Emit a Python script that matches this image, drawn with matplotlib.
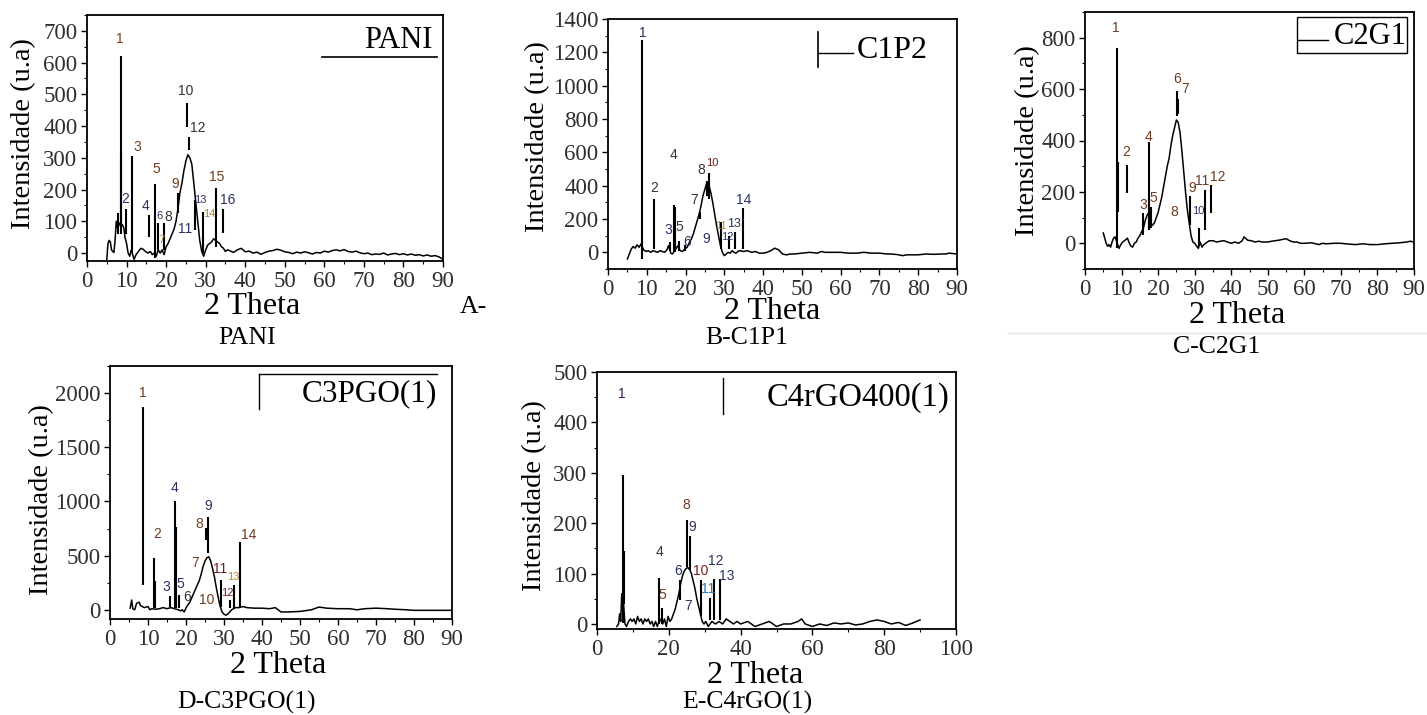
import matplotlib
matplotlib.use("Agg")
import matplotlib.pyplot as plt
from matplotlib.ticker import MultipleLocator
from matplotlib.lines import Line2D
from matplotlib.patches import Rectangle

plt.rcParams['font.family'] = ['Liberation Serif', 'DejaVu Serif']

# ---------------- data ----------------
# A - PANI : background trace
a_x = [5.0, 5.3, 5.6, 5.9, 6.2, 6.5, 6.8, 7.1, 7.4, 7.7, 8.0, 8.3, 8.9, 9.3, 9.6,
       10.0, 10.4, 10.8, 11.2, 11.9, 12.4, 13.0, 13.6, 14.2, 14.8, 15.4, 16.0, 16.5,
       17.0, 17.5, 18.0, 18.5, 19.0, 19.5, 20.0, 20.5, 21.0, 21.5, 22.0, 22.5, 23.0,
       23.5, 24.0, 24.5, 25.0, 25.5, 26.0, 26.5, 27.0, 27.5, 28.0, 28.5, 29.0, 29.5,
       30.0, 30.5, 31.0, 31.5, 32.0, 32.5, 33.0, 33.5, 34.0, 34.5, 35.0, 35.5,
       36, 37, 38, 39, 40, 41, 42, 43, 44, 45, 46, 47, 48, 49, 50, 51, 52, 53, 54,
       55, 56, 57, 58, 59, 60, 61, 62, 63, 64, 65, 66, 67, 68, 69, 70, 71, 72, 73,
       74, 75, 76, 77, 78, 79, 80, 81, 82, 83, 84, 85, 86, 87, 88, 89, 90]
a_y = [-20, 30, 40, 35, 10, 5, 2, 40, 100, 80, 85, 95, 90, 80, 50,
       30, 0, -10, 10, -20, -5, 5, 15, 12, 5, 0, 5, -5,
       0, -10, 10, 0, 10, -5, 20, 30, 45, 60, 75, 100, 140,
       190, 220, 260, 290, 310, 300, 280, 220, 160, 100, 40, 5, -10,
       10, 25, 30, 35, 45, 40, 35, 30, 20, 15, 5, 10,
       8, 2, 10, 15, 4, 6, 0, 3, -4, 2, 6, 8, 12, 9, 4, 2, -2, 3, 0,
       4, 1, -3, 2, 0, 6, 3, 8, 10, 7, 11, 5, 3, 6, 1, -2, 0, -5, -3,
       -4, 0, -6, -3, -1, -5, -2, -6, -3, -7, -5, -9, -6, -10, -8, -12, -20]
# A - PANI : peaks (position, line bottom, line top)
a_pk_x = [7.9, 8.5, 8.7, 9.8, 11.5, 15.7, 17.2, 18.0, 19.45, 23.1, 25.2, 25.7, 27.3, 29.2, 32.5, 34.5]
a_pk_lo = [60, 60, 100, 60, 0, 50, -15, 10, 10, 126, 398, 325, 73, 0, 20, 62]
a_pk_hi = [125, 620, 315, 140, 305, 120, 218, 95, 95, 189, 474, 367, 167, 130, 204, 138]

# B - C1P2
b_x = [5.0, 5.5, 6.0, 6.5, 7.0, 7.5, 8.0, 8.5, 9.2, 9.8, 10.4, 11.0, 11.6, 12.2, 12.8,
       13.4, 14.0, 14.6, 15.2, 15.6, 16.2, 16.6, 17.5, 18.0, 18.6, 19.2, 19.8, 20.4,
       21.0, 21.5, 22.0, 22.5, 23.0, 23.5, 24.0, 24.5, 25.0, 25.5, 26.0, 26.5, 27.0,
       27.5, 28.0, 28.5, 29.0, 29.5, 30.0, 30.5, 31.0, 31.5, 32.0, 32.5, 33.0, 33.5,
       34.0, 35.0, 36.0, 37, 38, 39, 40, 41, 42, 43, 44, 45, 46, 47, 48, 50, 52, 54,
       55, 56, 58, 60, 62, 64, 66, 68, 70, 72, 73, 74, 75, 76, 77, 78, 80, 82, 84,
       86, 87, 88, 90]
b_y = [-40, -10, 20, 35, 25, 45, 30, 50, 15, 5, 10, 0, 10, 5, 0,
       10, 5, 0, 15, 40, -5, -10, 20, 40, 10, 5, 20, 30,
       60, 80, 110, 150, 190, 230, 280, 340, 380, 420, 405, 360, 300,
       230, 160, 100, 40, 0, -20, -10, 0, -5, 10, 0, -5, 5,
       10, 5, 10, 0, 5, -5, -5, 0, 10, 25, 15, -10, -15, -10, -10, -5, 0, -5,
       5, 0, 0, 0, -5, -5, 0, -5, -5, -10, -10, -12, -15, -20, -15, -15, -15, -10, -12,
       -10, -10, -5, -10]
b_pk_x = [8.85, 11.8, 16.0, 17.1, 17.3, 18.3, 19.9, 23.6, 25.5, 26.0, 29.1, 31.3, 32.7, 34.7]
b_pk_lo = [-40, 20, 10, 0, 0, 10, 10, 198, 338, 318, 18, 18, 18, 18]
b_pk_hi = [1275, 320, 60, 285, 270, 70, 45, 240, 428, 478, 180, 98, 120, 265]

# C - C2G1
c_x = [5.0, 5.4, 5.8, 6.2, 6.6, 7.0, 7.4, 7.8, 8.2, 9.3, 9.8, 10.3, 10.8, 11.2, 11.6,
       12.0, 12.5, 13.0, 13.5, 14.0, 14.5, 15.0, 15.5, 16.0, 16.5, 17.0, 17.5, 18.0,
       18.5, 19.0, 19.5, 20.0, 20.5, 21.0, 21.5, 22.0, 22.5, 23.0, 23.5, 24.0, 24.5,
       25.0, 25.5, 26.0, 26.5, 27.0, 27.5, 28.0, 28.5, 29.0, 29.5, 30.0, 30.5, 31.0,
       31.5, 32.0, 32.5, 33.0, 34.0, 35.0, 36.0, 37.0, 38.0, 39.0, 40.0, 41.0, 42.0,
       43.0, 43.5, 44.5, 45.5, 46.5, 47.5, 48.5, 50.0, 51.0, 52.0, 53.0, 54.0, 55.0,
       56.0, 57.0, 58.0, 59.0, 60.0, 62.0, 64.0, 65.0, 66.0, 68.0, 70.0, 72.0, 74.0,
       76.0, 78.0, 80.0, 82.0, 84.0, 86.0, 88.0, 89.0, 90.0]
c_y = [40, 20, 0, -12, -5, -15, 5, 20, 25, -20, -5, 5, 10, 15, 20,
       5, -10, -15, 0, 5, 20, 30, 45, 60, 90, 110, 120, 80,
       70, 80, 100, 120, 150, 180, 220, 260, 300, 330, 380, 420, 450,
       480, 470, 430, 360, 280, 200, 130, 80, 30, 5, 0, -10, -20,
       5, -15, -5, 0, 10, 10, 5, 8, 10, 5, 0, 5, 0,
       10, 25, 12, 10, 5, 8, 5, 5, 8, 10, 12, 15, 18,
       10, 5, 5, 0, 0, 2, -5, 0, -2, 0, 0, -3, -5,
       -2, -5, -5, -2, 0, 2, 5, 8, 5]
c_pk_x = [8.7, 8.9, 11.6, 16.0, 17.4, 17.6, 18.0, 25.1, 25.4, 28.6, 31.1, 32.8, 34.5]
c_pk_lo = [-20, 120, 197, 32, 51, 50, 60, 496, 502, 71, -10, 51, 119]
c_pk_hi = [760, 315, 305, 116, 393, 160, 140, 593, 560, 183, 58, 206, 225]

# D - C3PGO(1)
d_x = [5.3, 5.7, 6.0, 6.5, 7.0, 7.7, 8.0, 9.0, 10.0, 10.5, 11.0, 12.0, 13.0, 14.0,
       15.0, 16.0, 17.0, 18.0, 18.5, 19.0, 19.5, 20.2, 21.0, 21.5, 22.0, 22.5, 23.0,
       23.5, 24.0, 24.5, 25.0, 25.5, 26.0, 26.5, 27.0, 27.5, 28.0, 28.5, 29.0, 29.5,
       30.0, 30.5, 31.0, 31.5, 32.0, 32.5, 33.0, 34.0, 35.0, 36.0, 38.0, 40.0, 42.0,
       43.5, 45.0, 47.0, 50.0, 53.0, 55.0, 57.0, 60.0, 63.0, 65.0, 67.0, 70.0, 73.0,
       75.0, 78.0, 80.0, 85.0, 90.0]
d_y = [15, 90, 10, 0, 60, 70, 40, 20, 30, 0, 10, 5, 10, 20,
       10, 20, 10, 0, -10, 0, -20, 30, 70, 110, 150, 190, 230,
       270, 330, 400, 450, 480, 490, 450, 380, 300, 200, 110, 30, -20,
       -40, -50, -40, -20, 0, 10, 20, 20, 30, 20, 15, 15, 10,
       20, -20, -20, -15, 0, 25, 15, 10, 10, 0, 10, 15, 10,
       5, 0, -5, -5, -5]
d_pk_x = [8.6, 11.7, 11.9, 15.8, 17.1, 17.3, 18.2, 25.2, 25.9, 29.2, 31.6, 32.7, 34.2]
d_pk_lo = [230, 18, 18, 30, 18, 18, 18, 645, 522, 30, 20, 18, 18]
d_pk_hi = [1874, 482, 270, 123, 1005, 768, 138, 753, 860, 276, 92, 230, 624]

# E - C4rGO400(1)
e_x = [5.5, 6.0, 6.3, 6.6, 6.9, 7.2, 7.8, 8.2, 8.8, 9.3, 9.8, 10.3, 10.8, 11.3, 11.8,
       12.3, 12.8, 13.3, 13.8, 14.3, 14.8, 15.3, 15.8, 16.3, 16.8, 17.5, 18.3, 18.8,
       19.3, 19.8, 20.3, 20.8, 21.3, 21.8, 22.3, 22.8, 23.3, 23.8, 24.3, 24.8, 25.3,
       25.8, 26.3, 26.8, 27.3, 27.8, 28.3, 28.8, 29.3, 29.8, 30.3, 31.0, 32.0, 33.0,
       34.0, 35.0, 36.0, 37.0, 38.0, 39.0, 40.0, 42.0, 44.0, 46.0, 48.0, 50.0, 52.0,
       54.0, 56.0, 57.0, 58.0, 60.0, 62.0, 64.0, 66.0, 68.0, 70.0, 72.0, 74.0, 76.0,
       78.0, 80.0, 82.0, 84.0, 86.0, 88.0, 90.0]
e_y = [-5, 0, 20, 5, 60, 60, 0, -5, 5, 10, 5, 10, 0, 15, 5,
       10, 0, 10, 5, 10, 0, 5, -5, 5, -5, 10, 0, 10,
       -5, 15, 5, 10, 20, 30, 45, 60, 80, 95, 105, 110, 112,
       108, 100, 85, 70, 50, 35, 20, 5, 0, 5, -5, 5, 0,
       5, 0, 10, 5, 0, 5, 0, 5, -5, 0, 5, -5, 0,
       0, 5, 10, 0, -5, 0, -3, 2, 0, 2, -2, 0, 5,
       8, 5, 0, 3, -3, 2, 8]
e_pk_x = [7.3, 7.5, 17.3, 18.0, 23.1, 25.0, 25.9, 28.9, 31.5, 32.6, 34.3]
e_pk_lo = [2, 40, 0, 0, 48, 114, 108, 15, 8, 8, 8]
e_pk_hi = [295, 144, 91, 31, 88, 207, 174, 88, 51, 89, 89]

# ---------------- peak number labels (text, x, y, colour, size) ----------------
BR, NV, DK, OR, RD = '#6e3d1f', '#2b3163', '#333333', '#b9842e', '#6e1d1d'
a_labels = [('1', 8.2, 674, BR, 10), ('2', 9.6, 170, NV, 10), ('3', 12.6, 335, BR, 10),
            ('4', 14.8, 148, NV, 10), ('5', 17.6, 265, BR, 10), ('6', 18.3, 117, NV, 8),
            ('7', 18.9, 41, OR, 8), ('8', 20.6, 114, DK, 10), ('9', 22.4, 218, BR, 10),
            ('10', 25.0, 509, DK, 10), ('11', 24.9, 75, NV, 10), ('12', 28.1, 393, DK, 10),
            ('13', 28.6, 167, NV, 8), ('14', 30.8, 122, OR, 8), ('15', 32.8, 241, BR, 10),
            ('16', 35.5, 167, NV, 10)]
b_labels = [('1', 8.9, 1318, NV, 10), ('2', 11.9, 388, DK, 10), ('3', 15.6, 132, NV, 10),
            ('4', 17.0, 584, DK, 10), ('5', 18.5, 150, DK, 10), ('6', 20.3, 62, NV, 10),
            ('7', 22.2, 312, DK, 10), ('8', 24.0, 494, DK, 10), ('9', 25.4, 82, NV, 10),
            ('10', 26.9, 538, RD, 8), ('11', 29.2, 158, OR, 8), ('12', 30.9, 92, NV, 8),
            ('13', 32.5, 168, NV, 9), ('14', 34.9, 314, NV, 10)]
c_labels = [('1', 8.4, 837, BR, 10), ('2', 11.4, 357, BR, 10), ('3', 16.0, 148, BR, 10),
            ('4', 17.5, 415, BR, 10), ('5', 18.7, 176, BR, 10), ('6', 25.1, 640, BR, 10),
            ('7', 27.5, 599, BR, 10), ('8', 24.4, 120, BR, 10), ('9', 29.2, 216, BR, 10),
            ('10', 30.9, 126, NV, 8), ('11', 32.1, 241, BR, 10), ('12', 36.2, 258, BR, 10)]
d_labels = [('1', 8.6, 1997, BR, 10), ('2', 12.5, 698, BR, 10), ('3', 14.9, 206, NV, 10),
            ('4', 17.1, 1122, NV, 10), ('5', 18.4, 240, NV, 10), ('6', 20.3, 120, DK, 10),
            ('7', 22.4, 436, BR, 10), ('8', 23.5, 790, BR, 10), ('9', 25.9, 962, NV, 10),
            ('10', 25.4, 92, BR, 10), ('11', 28.9, 375, RD, 10), ('12', 30.9, 154, RD, 8),
            ('13', 32.5, 301, OR, 8), ('14', 36.4, 691, BR, 10)]
e_labels = [('1', 6.9, 457, '#3a1a4a', 10), ('4', 17.5, 143, DK, 10), ('5', 18.3, 58, BR, 10),
            ('6', 22.5, 106, NV, 10), ('7', 25.3, 36, NV, 10), ('8', 24.8, 237, BR, 10),
            ('9', 26.5, 192, NV, 10), ('10', 29.0, 106, RD, 10), ('11', 31.0, 69, '#2a7ab0', 10),
            ('12', 33.1, 124, NV, 10), ('13', 36.1, 96, NV, 10)]


def draw_panel(ax, tx, ty, px, plo, phi, labels, xmax, xstep, ylim, ystep):
    ax.plot(tx, ty, color='black', lw=1.1)
    ax.vlines(px, plo, phi, color='black', lw=1.5)
    for t, x, y, c, s in labels:
        ax.text(x, y, t, color=c, fontsize=s, ha='center', va='center',
                family=['Liberation Sans', 'DejaVu Sans'])
    ax.set_xlim(0, xmax)
    ax.set_ylim(*ylim)
    ax.xaxis.set_major_locator(MultipleLocator(xstep))
    ax.xaxis.set_minor_locator(MultipleLocator(xstep / 2))
    ax.yaxis.set_major_locator(MultipleLocator(ystep))
    ax.yaxis.set_minor_locator(MultipleLocator(ystep / 2))
    ax.tick_params(which='major', direction='out', length=4, width=1.0,
                   labelsize=16.5, pad=3, labelcolor='#2e2e2e')
    ax.tick_params(which='minor', direction='out', length=2.5, width=0.8)
    for sp in ax.spines.values():
        sp.set_linewidth(1.3)


def axis_texts(ax, ylx, yly, xlx, xly):
    ax.text(ylx, yly, 'Intensidade (u.a)', transform=ax.transAxes, rotation=90,
            ha='center', va='center', fontsize=20.5)
    ax.text(xlx, xly, '2 Theta', transform=ax.transAxes, ha='center', va='center',
            fontsize=23)


fig = plt.figure(figsize=(14.27, 7.15), dpi=100)
fig.patch.set_facecolor('white')

W, H = 1427.0, 715.0


def box(l, r, t, b):
    return [l / W, 1 - b / H, (r - l) / W, (b - t) / H]


axA = fig.add_axes(box(87, 443, 15, 261))
axB = fig.add_axes(box(608, 957, 19, 269))
axC = fig.add_axes(box(1085, 1414, 12, 269))
axD = fig.add_axes(box(110, 452, 366, 619))
axE = fig.add_axes(box(597, 956, 372, 629))

draw_panel(axA, a_x, a_y, a_pk_x, a_pk_lo, a_pk_hi, a_labels, 90, 10, (-25, 750), 100)
draw_panel(axB, b_x, b_y, b_pk_x, b_pk_lo, b_pk_hi, b_labels, 90, 10, (-100, 1400), 200)
draw_panel(axC, c_x, c_y, c_pk_x, c_pk_lo, c_pk_hi, c_labels, 90, 10, (-100, 900), 200)
draw_panel(axD, d_x, d_y, d_pk_x, d_pk_lo, d_pk_hi, d_labels, 90, 10, (-85, 2250), 500)
draw_panel(axE, e_x, e_y, e_pk_x, e_pk_lo, e_pk_hi, e_labels, 100, 20, (-10, 500), 100)

axis_texts(axA, -0.179, 0.52, 0.463, -0.183)
axis_texts(axB, -0.202, 0.529, 0.471, -0.171)
axis_texts(axC, -0.173, 0.499, 0.461, -0.179)
axis_texts(axD, -0.200, 0.474, 0.492, -0.182)
axis_texts(axE, -0.175, 0.518, 0.440, -0.179)

# legend-like boxes as they appear in each panel
axA.text(0.874, 0.898, 'PANI', transform=axA.transAxes, ha='center', va='center', fontsize=22)
axA.plot([0.66, 0.983], [0.829, 0.829], transform=axA.transAxes, color='black', lw=1.2)

axB.plot([0.603, 0.603], [0.809, 0.949], transform=axB.transAxes, color='black', lw=1.2)
axB.plot([0.603, 0.702], [0.864, 0.864], transform=axB.transAxes, color='black', lw=1.0)
axB.text(0.713, 0.876, 'C1P2', transform=axB.transAxes, ha='left', va='center', fontsize=23)

axC.add_patch(Rectangle((0.643, 0.842), 0.335, 0.137, transform=axC.transAxes,
                        fill=False, edgecolor='black', lw=1.0))
axC.plot([0.648, 0.739], [0.891, 0.891], transform=axC.transAxes, color='black', lw=1.0)
axC.text(0.755, 0.904, 'C2G1', transform=axC.transAxes, ha='left', va='center', fontsize=22)

axD.plot([0.4366, 0.957], [0.968, 0.968], transform=axD.transAxes, color='black', lw=1.0)
axD.plot([0.4366, 0.4366], [0.829, 0.968], transform=axD.transAxes, color='black', lw=1.0)
axD.text(0.5605, 0.892, 'C3PGO(1)', transform=axD.transAxes, ha='left', va='center', fontsize=22.5)

axE.plot([0.35, 0.35], [0.837, 0.976], transform=axE.transAxes, color='black', lw=1.0)
axE.text(0.4727, 0.90, 'C4rGO400(1)', transform=axE.transAxes, ha='left', va='center', fontsize=23.5)

# captions
fig.text(247 / W, 1 - 338 / H, 'PANI', ha='center', va='center', fontsize=18.5)
fig.text(460 / W, 1 - 307 / H, 'A-', ha='left', va='center', fontsize=18.5)
fig.text(747 / W, 1 - 338 / H, 'B-C1P1', ha='center', va='center', fontsize=18.5)
fig.text(1217 / W, 1 - 347 / H, 'C-C2G1', ha='center', va='center', fontsize=18.5)
fig.text(247 / W, 1 - 702 / H, 'D-C3PGO(1)', ha='center', va='center', fontsize=18.5)
fig.text(747 / W, 1 - 702 / H, 'E-C4rGO(1)', ha='center', va='center', fontsize=18.5)
fig.add_artist(Line2D([1008 / W, 1.0], [1 - 333 / H, 1 - 333 / H], color='#e4e4e4', lw=1.0))

fig.savefig('out.png', dpi=100, facecolor='white')
